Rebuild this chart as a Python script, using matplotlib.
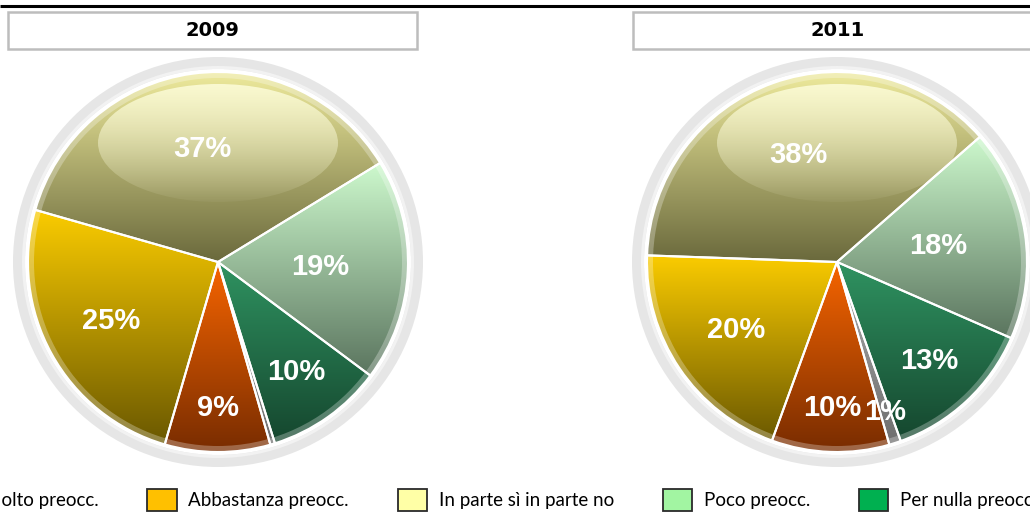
import numpy as np
import matplotlib
matplotlib.use('Agg')
import matplotlib.pyplot as plt
from matplotlib.patches import Wedge, Rectangle, Ellipse, Patch
from matplotlib.colors import to_rgb

# ---- data ----
categories = ['Molto preocc.', 'Abbastanza preocc.', 'In parte sì in parte no',
              'Poco preocc.', 'Per nulla preocc.', 'Non sa']
years = ['2009', '2011']
values_2009 = [9, 25, 37, 19, 10, 0.4]
values_2011 = [10, 20, 38, 18, 13, 1]

# ---- style ----
top_colors = ['#F76500', '#FBCC00', '#EEEA9C', '#CDF9CD', '#2F9361', '#ABABAB']
bottom_colors = ['#782C00', '#6A5800', '#6A693C', '#5A745E', '#15462E', '#6E6E6E']
legend_colors = ['#FF6A00', '#FFC000', '#FFFFA6', '#A2F5A2', '#00B050', '#A0A0A0']
label_dist = [0.77, 0.64, 0.6, 0.54, 0.71, 0.83]

W, H = 1030, 516
fig = plt.figure(figsize=(W / 100, H / 100), dpi=100)
ax = fig.add_axes([0, 0, 1, 1])

centers = [(218, H - 262), (837, H - 262)]
title_x = [212.5, 837.5]
R = 190


def vgrad(c_top, c_bot, n=256):
    t = np.linspace(0, 1, n)[:, None]
    a, b = np.array(to_rgb(c_top)), np.array(to_rgb(c_bot))
    img = a[None, :] * (1 - t) + b[None, :] * t
    return img[:, None, :]


for vals, (cx, cy), year in zip([values_2009, values_2011], centers, years):
    # outer grey ring
    ax.add_patch(Wedge((cx, cy), 205, 0, 360, width=12, facecolor='#E6E6E6',
                       edgecolor='none', zorder=1))
    ax.add_patch(Wedge((cx, cy), 196, 0, 360, width=3, facecolor='#F2F2F2',
                       edgecolor='none', zorder=1.1))
    wedges, texts, autotexts = ax.pie(
        vals, colors=top_colors, startangle=286, counterclock=False,
        radius=R, center=(cx, cy),
        autopct=lambda p: f'{p:.0f}%' if p >= 0.5 else '',
        wedgeprops=dict(edgecolor='white', linewidth=1.5),
        textprops=dict(color='white', fontsize=21, fontweight='bold',
                       family='Liberation Sans'))
    for i, w in enumerate(wedges):
        ext = w.get_path().get_extents()
        im = ax.imshow(vgrad(top_colors[i], bottom_colors[i]),
                       extent=(ext.x0, ext.x1, ext.y0, ext.y1), origin='upper',
                       interpolation='bilinear', aspect='auto', zorder=1.5)
        im.set_clip_path(w)
        w.set_facecolor('none')
        w.set_zorder(3)
        th = np.deg2rad((w.theta1 + w.theta2) / 2)
        d = label_dist[i] * R
        autotexts[i].set_position((cx + d * np.cos(th), cy + d * np.sin(th)))
        autotexts[i].set_zorder(5)
        autotexts[i].set_ha('center')
        autotexts[i].set_va('center')
    # glossy highlight
    el = Ellipse((cx, H - 143), 240, 118, facecolor='none', edgecolor='none')
    ax.add_patch(el)
    n = 256
    alpha = np.linspace(0.8, 0.05, n)[:, None]
    hl = np.ones((n, 1, 4))
    hl[:, 0, 2] = 0.88
    hl[:, :, 3] = alpha
    im = ax.imshow(hl, extent=(cx - 120, cx + 120, H - 202, H - 84), origin='upper',
                   interpolation='bilinear', aspect='auto', zorder=2)
    im.set_clip_path(el)
    # bevel on the rim
    ax.add_patch(Wedge((cx, cy), R, 0, 360, width=6, facecolor=(1, 1, 1, 0.28),
                       edgecolor='none', zorder=2.5))

# title boxes
for tx, year in zip(title_x, years):
    ax.add_patch(Rectangle((tx - 204.5, H - 49), 409, 37, facecolor='white',
                           edgecolor='#BDBDBD', linewidth=1.8, zorder=4))
    ax.text(tx, H - 31, year, ha='center', va='center', fontsize=14,
            fontweight='bold', family='DejaVu Sans', color='black', zorder=5)

# top rule
ax.plot([0, W], [H - 6, H - 6], color='black', linewidth=2.2, zorder=5,
        solid_capstyle='butt')

# legend
handles = [Patch(facecolor=c, edgecolor='#2A2A2A', linewidth=1.3, label=l)
           for c, l in zip(legend_colors, categories)]
ax.legend(handles=handles, loc='center left', bbox_to_anchor=(-57 / W, (H - 500) / H),
          ncol=6, frameon=False, prop=dict(family='Lato', size=13.5),
          handlelength=1.55, handleheight=1.44, handletextpad=0.64,
          columnspacing=2.6, borderpad=0, borderaxespad=0)

ax.set_xlim(0, W)
ax.set_ylim(0, H)
ax.set_aspect('auto')
ax.axis('off')
fig.savefig('out.png', dpi=100)
